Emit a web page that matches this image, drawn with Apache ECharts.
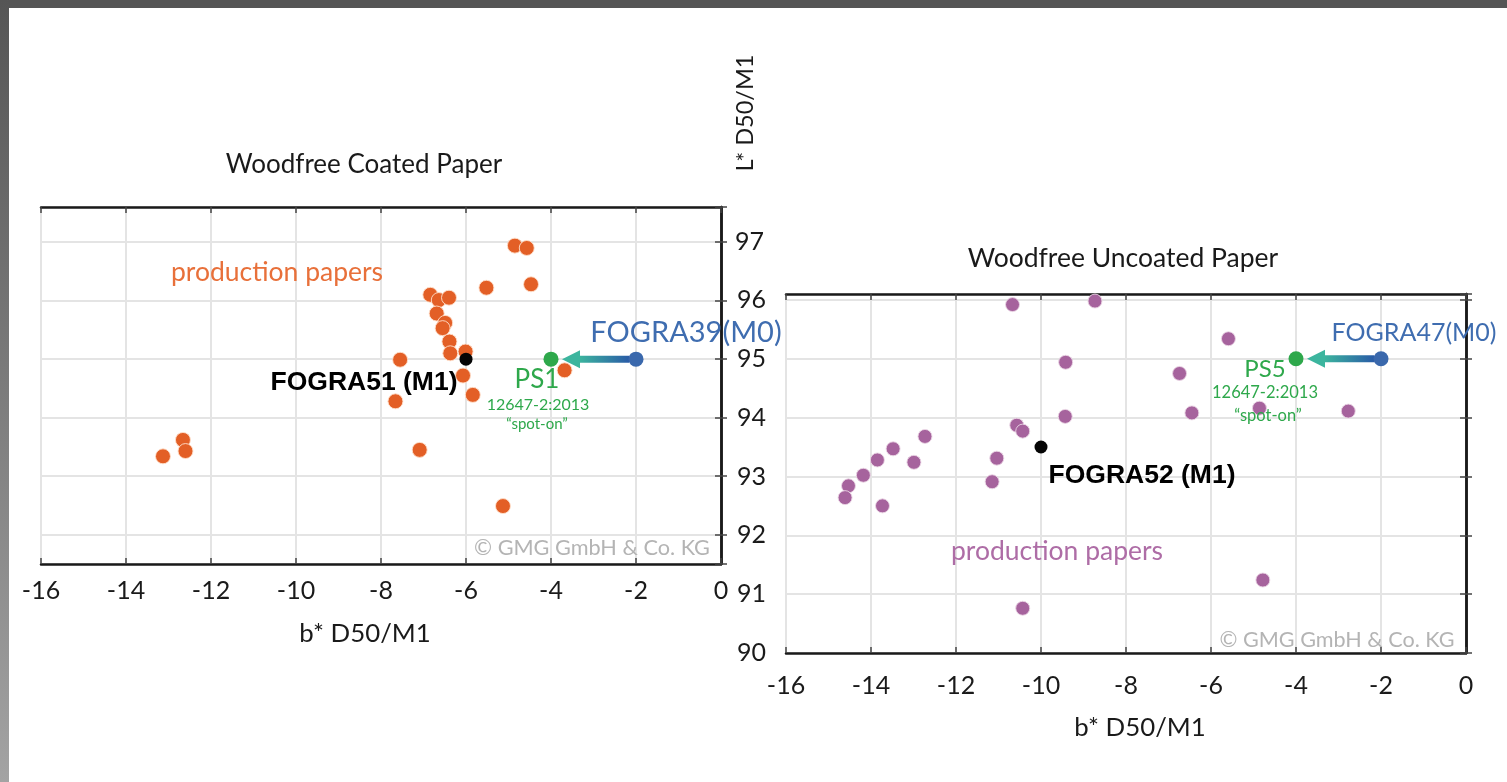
<!DOCTYPE html>
<html>
<head>
<meta charset="utf-8">
<script src="https://cdn.jsdelivr.net/npm/echarts@6/dist/echarts.min.js"></script>
<style>
html,body{margin:0;padding:0;background:#fff;}
#c{width:1507px;height:782px;}
</style>
</head>
<body>
<div id="c"></div>
<script>
// ---- Data ----
const xTicks = [-16, -14, -12, -10, -8, -6, -4, -2, 0];
const coatedB = [-4.85, -4.57, -4.47, -5.52, -6.84, -6.64, -6.40, -6.69, -6.49, -6.55, -6.39, -6.37, -6.01, -7.55, -3.68, -6.07, -5.84, -7.66, -7.09, -5.13, -13.13, -12.66, -12.60];
const coatedL = [96.94, 96.90, 96.28, 96.22, 96.10, 96.01, 96.05, 95.78, 95.62, 95.53, 95.30, 95.10, 95.13, 94.99, 94.81, 94.72, 94.39, 94.28, 93.45, 92.49, 93.34, 93.62, 93.43];
const uncoatedB = [-10.67, -8.73, -9.42, -9.43, -10.57, -10.43, -11.04, -11.15, -12.73, -13.48, -12.99, -13.85, -14.18, -14.53, -14.61, -13.73, -10.43, -4.78, -5.59, -6.74, -6.45, -4.86, -2.77];
const uncoatedL = [95.92, 95.98, 94.94, 94.02, 93.87, 93.77, 93.31, 92.91, 93.68, 93.47, 93.24, 93.28, 93.02, 92.84, 92.64, 92.50, 90.76, 91.24, 95.34, 94.75, 94.08, 94.16, 94.11];
const fogra51 = [-6, 95];
const ps1 = [-4, 95];
const fogra39 = [-2, 95];
const fogra52 = [-10, 93.5];
const ps5 = [-4, 95];
const fogra47 = [-2, 95];

const FONT = 'Lato';
const chart = echarts.init(document.getElementById('c'), null, {renderer: 'canvas'});

const zip = (a, b) => a.map((v, i) => [v, b[i]]);

function renderArrow(params, api) {
  const from = api.coord([api.value(0), api.value(1)]);
  const to = api.coord([api.value(2), api.value(3)]);
  const y = from[1];
  const startX = from[0] - 7;
  const tipX = to[0] + 11;
  const headLen = 18, headHalf = 9, shaftHalf = 3.5;
  return {
    type: 'group',
    children: [
      {type: 'rect', shape: {x: tipX + headLen - 1, y: y - shaftHalf, width: startX - (tipX + headLen - 1), height: shaftHalf * 2},
       style: {fill: new echarts.graphic.LinearGradient(0, 0, 1, 0, [{offset: 0, color: '#3CB59E'}, {offset: 1, color: '#2A5CA7'}])}},
      {type: 'polygon', shape: {points: [[tipX, y], [tipX + headLen, y - headHalf], [tipX + headLen, y + headHalf]]},
       style: {fill: '#3CB59E'}}
    ]
  };
}

const axisLineStyle = {show: true, lineStyle: {color: '#1a1a1a', width: 2.5}};
const tickIn = {show: true, inside: true, length: 6, lineStyle: {color: '#444', width: 1.5}};
const gridLine = {show: true, lineStyle: {color: '#e4e4e4', width: 2}};
const labelStyle = {fontFamily: FONT, fontSize: 25, color: '#1a1a1a'};

function xAxes(gi, margin) {
  return [
    {type: 'value', gridIndex: gi, position: 'bottom', min: -16, max: 0, interval: 2,
     axisLine: axisLineStyle, axisTick: tickIn, splitLine: gridLine,
     axisLabel: Object.assign({margin: margin}, labelStyle)},
    {type: 'value', gridIndex: gi, position: 'top', min: -16, max: 0, interval: 2,
     axisLine: axisLineStyle, axisTick: tickIn, splitLine: {show: false}, axisLabel: {show: false}}
  ];
}

const intOnly = v => (Math.abs(v - Math.round(v)) < 1e-6 ? String(Math.round(v)) : '');

const option = {
  backgroundColor: '#ffffff',
  animation: false,
  grid: [
    {left: 41, top: 207, width: 680, height: 357},
    {left: 786, top: 294, width: 680, height: 359}
  ],
  xAxis: [].concat(xAxes(0, 14), xAxes(1, 20)),
  yAxis: [
    {type: 'value', gridIndex: 0, position: 'left', min: 91.5, max: 97.6, splitNumber: 6,
     axisLine: axisLineStyle, axisTick: tickIn, splitLine: gridLine, axisLabel: {show: false}},
    {type: 'value', gridIndex: 0, position: 'right', min: 91.5, max: 97.6, splitNumber: 6,
     axisLine: axisLineStyle, axisTick: tickIn, splitLine: {show: false},
     axisLabel: Object.assign({margin: 14, formatter: v => (Math.abs(v - 97) < 1e-6 ? '97' : '')}, labelStyle)},
    {type: 'value', gridIndex: 1, position: 'left', min: 90, max: 96.1, interval: 1,
     axisLine: axisLineStyle, axisTick: tickIn, splitLine: gridLine,
     axisLabel: Object.assign({margin: 20, formatter: intOnly}, labelStyle)},
    {type: 'value', gridIndex: 1, position: 'right', min: 90, max: 96.1, interval: 1,
     axisLine: axisLineStyle, axisTick: tickIn, splitLine: {show: false}, axisLabel: {show: false}}
  ],
  series: [
    {type: 'scatter', xAxisIndex: 0, yAxisIndex: 0, symbolSize: 15, z: 3,
     itemStyle: {color: '#E35F26', opacity: 1, borderColor: 'rgba(255,225,205,0.9)', borderWidth: 1},
     data: zip(coatedB, coatedL)},
    {type: 'custom', xAxisIndex: 0, yAxisIndex: 0, renderItem: renderArrow, z: 4,
     data: [[fogra39[0], fogra39[1], ps1[0], ps1[1]]]},
    {type: 'scatter', xAxisIndex: 0, yAxisIndex: 0, symbolSize: 13, z: 5, itemStyle: {color: '#050505', opacity: 1}, data: [fogra51]},
    {type: 'scatter', xAxisIndex: 0, yAxisIndex: 0, symbolSize: 15, z: 5, itemStyle: {color: '#2EA84B', opacity: 1}, data: [ps1]},
    {type: 'scatter', xAxisIndex: 0, yAxisIndex: 0, symbolSize: 15, z: 5, itemStyle: {color: '#3A68AC', opacity: 1}, data: [fogra39]},

    {type: 'scatter', xAxisIndex: 2, yAxisIndex: 2, symbolSize: 14, z: 3,
     itemStyle: {color: '#A6639D', opacity: 1, borderColor: 'rgba(235,215,230,0.9)', borderWidth: 1},
     data: zip(uncoatedB, uncoatedL)},
    {type: 'custom', xAxisIndex: 2, yAxisIndex: 2, renderItem: renderArrow, z: 4,
     data: [[fogra47[0], fogra47[1], ps5[0], ps5[1]]]},
    {type: 'scatter', xAxisIndex: 2, yAxisIndex: 2, symbolSize: 13, z: 5, itemStyle: {color: '#050505', opacity: 1}, data: [fogra52]},
    {type: 'scatter', xAxisIndex: 2, yAxisIndex: 2, symbolSize: 15, z: 5, itemStyle: {color: '#2EA84B', opacity: 1}, data: [ps5]},
    {type: 'scatter', xAxisIndex: 2, yAxisIndex: 2, symbolSize: 15, z: 5, itemStyle: {color: '#3A68AC', opacity: 1}, data: [fogra47]}
  ],
  graphic: [
    {type: 'rect', z: 100, shape: {x: 0, y: 0, width: 1507, height: 8}, style: {fill: '#555555'}},
    {type: 'rect', z: 100, shape: {x: 0, y: 0, width: 9, height: 782},
     style: {fill: new echarts.graphic.LinearGradient(0, 0, 0, 1, [{offset: 0, color: '#555555'}, {offset: 1, color: '#a3a3a3'}])}},
    txt('Woodfree Coated Paper', 364, 165, 26, '#1a1a1a'),
    txt('Woodfree Uncoated Paper', 1123, 258, 26.5, '#1a1a1a'),
    txt('production papers', 277, 272, 26.5, '#E8703A'),
    txt('production papers', 1057, 551, 26.5, '#AE6DA6'),
    txt('FOGRA51 (M1)', 364, 383, 26.5, '#000', 'bold', 'Liberation Sans'),
    txt('FOGRA52 (M1)', 1142, 476, 26.5, '#000', 'bold', 'Liberation Sans'),
    txt('PS1', 537, 380, 26, '#2EA84B'),
    txt('12647-2:2013', 538, 405, 16, '#2EA84B'),
    txt('\u201Cspot-on\u201D', 537, 424, 15, '#2EA84B'),
    txt('PS5', 1265, 369, 24, '#2EA84B'),
    txt('12647-2:2013', 1265, 393, 16.5, '#2EA84B'),
    txt('\u201Cspot-on\u201D', 1268, 416, 16.5, '#2EA84B'),
    txt('FOGRA39(M0)', 686, 333, 29, '#3F6DB0'),
    txt('FOGRA47(M0)', 1414, 333, 25, '#3F6DB0'),
    txt('\u00A9 GMG GmbH & Co. KG', 592, 548, 21.7, '#b4b4b4'),
    txt('\u00A9 GMG GmbH & Co. KG', 1337, 640, 21.6, '#b4b4b4'),
    txt('b* D50/M1', 365, 634, 25.8, '#1a1a1a'),
    txt('b* D50/M1', 1140, 728, 25.8, '#1a1a1a'),
    {type: 'text', x: 745, y: 113, rotation: Math.PI / 2, z: 50,
     style: {text: 'L* D50/M1', fontFamily: FONT, fontSize: 23.5, fill: '#1a1a1a', align: 'center', verticalAlign: 'middle'}}
  ]
};

function txt(t, x, y, size, color, weight, family) {
  return {type: 'text', x: x, y: y, z: 50,
    style: {text: t, fontFamily: family || FONT, fontSize: size, fontWeight: weight || 'normal', fill: color, align: 'center', verticalAlign: 'middle'}};
}

chart.setOption(option);
</script>
</body>
</html>
